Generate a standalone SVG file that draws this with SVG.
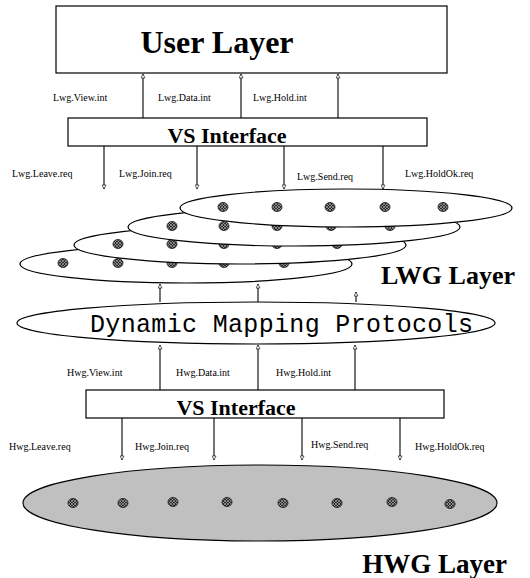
<svg xmlns="http://www.w3.org/2000/svg" width="530" height="578" viewBox="0 0 530 578">
<style>
.box{fill:#fff;stroke:#000;stroke-width:1.2}
.ell{fill:#fff;stroke:#000;stroke-width:1.2}
.big{font-family:"Liberation Serif",serif;font-weight:bold;fill:#000}
.lbl{font-family:"Liberation Serif",serif;font-size:10px;fill:#000}
.mono{font-family:"Liberation Mono",monospace;font-size:25px;fill:#000}
.arr{stroke:#000;stroke-width:1.1;fill:none;marker-end:url(#ah)}
.dot{fill:url(#hatch);stroke:#111;stroke-width:0.8}
</style>
<defs>
<marker id="ah" viewBox="0 0 8 10" refX="8" refY="5" markerWidth="7" markerHeight="5" orient="auto" markerUnits="userSpaceOnUse">
<path d="M0,1 L8,5 L0,9 Z" fill="#fff" stroke="#000" stroke-width="1.2"/>
</marker>
<pattern id="hatch" width="3" height="3" patternUnits="userSpaceOnUse">
<rect width="3" height="3" fill="#2a2a2a"/>
<path d="M0,3 L3,0 M0,0 L3,3" stroke="#bbb" stroke-width="0.6"/>
</pattern>
</defs>

<g id="user-layer">
<rect class="box" x="56" y="6" width="391" height="67"/>
<text class="big" x="217" y="53" font-size="32" text-anchor="middle">User Layer</text>
</g>

<g id="vs-interface-lwg">
<rect class="box" x="68" y="118" width="359" height="28"/>
<text class="big" x="227" y="143" font-size="22" text-anchor="middle">VS Interface</text>
</g>

<g id="lwg-groups">
<g id="lwg-4">
<ellipse class="ell" cx="186" cy="264" rx="166" ry="19"/>
<ellipse class="dot" cx="63" cy="263" rx="5" ry="4.5"/>
<ellipse class="dot" cx="118" cy="263" rx="5" ry="4.5"/>
<ellipse class="dot" cx="172" cy="263" rx="5" ry="4.5"/>
<ellipse class="dot" cx="224" cy="263" rx="5" ry="4.5"/>
<ellipse class="dot" cx="284" cy="263" rx="5" ry="4.5"/>
</g>
<g id="lwg-3">
<ellipse class="ell" cx="240" cy="245" rx="166" ry="19"/>
<ellipse class="dot" cx="118" cy="244" rx="5" ry="4.5"/>
<ellipse class="dot" cx="172" cy="244" rx="5" ry="4.5"/>
<ellipse class="dot" cx="224" cy="244" rx="5" ry="4.5"/>
<ellipse class="dot" cx="277" cy="244" rx="5" ry="4.5"/>
<ellipse class="dot" cx="337" cy="244" rx="5" ry="4.5"/>
</g>
<g id="lwg-2">
<ellipse class="ell" cx="294" cy="227" rx="166" ry="19"/>
<ellipse class="dot" cx="172" cy="226" rx="5" ry="4.5"/>
<ellipse class="dot" cx="224" cy="226" rx="5" ry="4.5"/>
<ellipse class="dot" cx="277" cy="226" rx="5" ry="4.5"/>
<ellipse class="dot" cx="331" cy="226" rx="5" ry="4.5"/>
<ellipse class="dot" cx="390" cy="226" rx="5" ry="4.5"/>
</g>
<g id="lwg-1">
<ellipse class="ell" cx="346" cy="208" rx="166" ry="19"/>
<ellipse class="dot" cx="223" cy="207" rx="5" ry="4.5"/>
<ellipse class="dot" cx="277" cy="207" rx="5" ry="4.5"/>
<ellipse class="dot" cx="330" cy="207" rx="5" ry="4.5"/>
<ellipse class="dot" cx="385" cy="207" rx="5" ry="4.5"/>
<ellipse class="dot" cx="443" cy="207" rx="5" ry="4.5"/>
</g>
<text class="big" x="515" y="284" font-size="26" text-anchor="end">LWG Layer</text>
</g>

<g id="dynamic-mapping">
<ellipse class="ell" cx="256" cy="323" rx="239" ry="21"/>
<text class="mono" x="90" y="332" textLength="383">Dynamic Mapping Protocols</text>
</g>

<g id="vs-interface-hwg">
<rect class="box" x="86" y="390" width="358" height="28"/>
<text class="big" x="236" y="415" font-size="22" text-anchor="middle">VS Interface</text>
</g>

<g id="hwg-layer">
<ellipse cx="260" cy="503" rx="237" ry="38" fill="#c0c0c0" stroke="#000" stroke-width="1.2"/>
<ellipse class="dot" cx="73" cy="503" rx="5" ry="4.5"/>
<ellipse class="dot" cx="123" cy="503" rx="5" ry="4.5"/>
<ellipse class="dot" cx="173" cy="502" rx="5" ry="4.5"/>
<ellipse class="dot" cx="227" cy="502" rx="5" ry="4.5"/>
<ellipse class="dot" cx="283" cy="503" rx="5" ry="4.5"/>
<ellipse class="dot" cx="337" cy="503" rx="5" ry="4.5"/>
<ellipse class="dot" cx="392" cy="502" rx="5" ry="4.5"/>
<ellipse class="dot" cx="450" cy="504" rx="5" ry="4.5"/>
<text class="big" x="507" y="573" font-size="27" text-anchor="end">HWG Layer</text>
</g>

<g id="connectors">
<line class="arr" x1="143" y1="118" x2="143" y2="74"/>
<line class="arr" x1="241" y1="118" x2="241" y2="74"/>
<line class="arr" x1="338" y1="118" x2="338" y2="74"/>
<line class="arr" x1="104" y1="146" x2="104" y2="189"/>
<line class="arr" x1="197" y1="146" x2="197" y2="189"/>
<line class="arr" x1="284" y1="146" x2="284" y2="189"/>
<line class="arr" x1="383" y1="146" x2="383" y2="189"/>
<line class="arr" x1="160" y1="302" x2="160" y2="284"/>
<line class="arr" x1="258" y1="302" x2="258" y2="284"/>
<line class="arr" x1="356" y1="302" x2="356" y2="292"/>
<line class="arr" x1="160" y1="390" x2="160" y2="345"/>
<line class="arr" x1="258" y1="390" x2="258" y2="345"/>
<line class="arr" x1="355" y1="390" x2="355" y2="345"/>
<line class="arr" x1="122" y1="418" x2="122" y2="460"/>
<line class="arr" x1="214" y1="418" x2="214" y2="460"/>
<line class="arr" x1="302" y1="418" x2="302" y2="460"/>
<line class="arr" x1="400" y1="418" x2="400" y2="460"/>
<text class="lbl" x="53" y="101">Lwg.View.int</text>
<text class="lbl" x="158" y="101">Lwg.Data.int</text>
<text class="lbl" x="253" y="101">Lwg.Hold.int</text>
<text class="lbl" x="12" y="177">Lwg.Leave.req</text>
<text class="lbl" x="119" y="177">Lwg.Join.req</text>
<text class="lbl" x="297" y="180">Lwg.Send.req</text>
<text class="lbl" x="405" y="177">Lwg.HoldOk.req</text>
<text class="lbl" x="67" y="376">Hwg.View.int</text>
<text class="lbl" x="176" y="376">Hwg.Data.int</text>
<text class="lbl" x="276" y="376">Hwg.Hold.int</text>
<text class="lbl" x="9" y="450">Hwg.Leave.req</text>
<text class="lbl" x="135" y="450">Hwg.Join.req</text>
<text class="lbl" x="311" y="448">Hwg.Send.req</text>
<text class="lbl" x="415" y="450">Hwg.HoldOk.req</text>
</g>
</svg>
